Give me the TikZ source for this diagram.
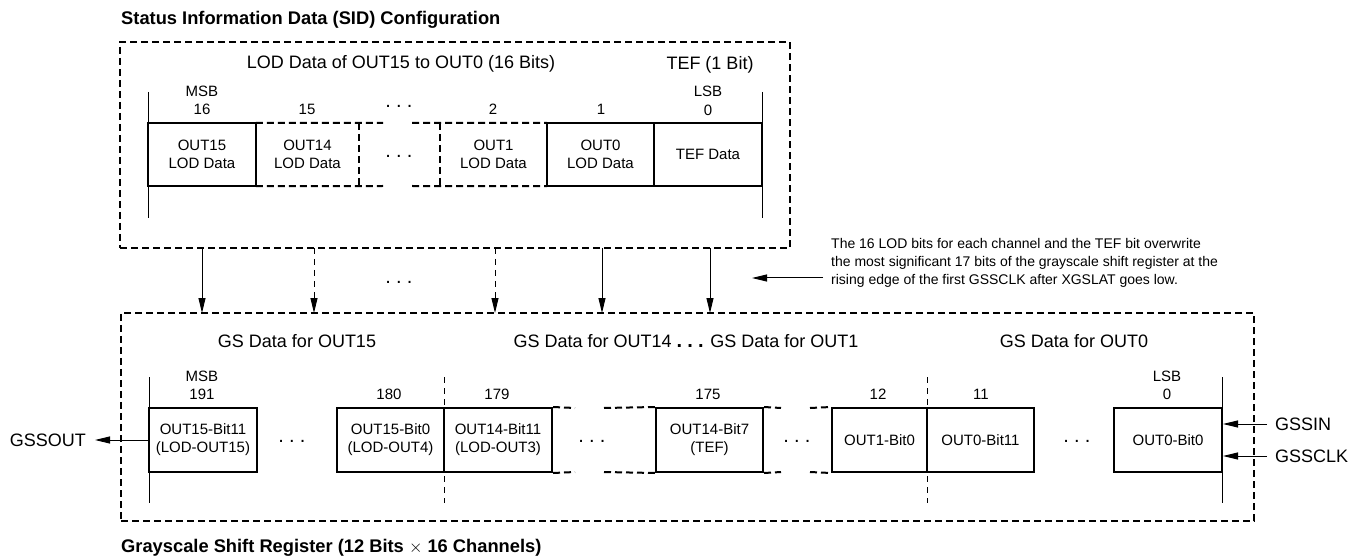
\documentclass[tikz,border=0pt]{standalone}
\usepackage{fontspec}
\setmainfont{Liberation Sans}
\usetikzlibrary{arrows.meta}
\newcommand\mydots{.\hspace{5.2pt}.\hspace{5.2pt}.}
\begin{document}
\begin{tikzpicture}[x=1pt,y=-1pt,
  hdr/.style={inner sep=0pt, font=\fontsize{18}{21.6}\selectfont, text height=12.9pt, text depth=0pt},
  num/.style={inner sep=0pt, font=\fontsize{15}{18}\selectfont, text height=10.7pt, text depth=0pt},
  ttl/.style={inner sep=0pt, font=\fontsize{18.3}{22}\selectfont\bfseries, text height=13.1pt, text depth=0pt, anchor=west},
  dts/.style={inner sep=0pt, font=\fontsize{20}{24}\selectfont},
  tcell/.style={minimum width=#1, minimum height=63pt, inner sep=0pt, align=center, font=\fontsize{15}{18}\selectfont},
  bcell/.style={minimum width=#1, minimum height=64pt, inner sep=0pt, align=center, font=\fontsize{15}{18}\selectfont, draw, line width=2pt},
  solid box/.style={draw, line width=2pt},
  dbox/.style={line width=2pt, dash pattern=on 7pt off 4pt},
  guide/.style={line width=1pt},
  dguide/.style={line width=1pt, dash pattern=on 6pt off 5pt},
  arr/.style={line width=1pt, -{Triangle[length=15pt,width=7pt]}},
  darr/.style={line width=1pt, dash pattern=on 6pt off 5pt, -{Triangle[length=15pt,width=7pt]}},
  sig/.style={inner sep=0pt, font=\fontsize{18}{21.6}\selectfont, text height=12.9pt, text depth=0pt},
]
\useasboundingbox (0,0) rectangle (1366,556);
\fill[white] (0,0) rectangle (1366,556);

% ---------- top: SID configuration ----------
\node[ttl] (t1) at (121,18) {Status Information Data (SID) Configuration};
\node[draw, dbox, minimum width=670pt, minimum height=206pt, inner sep=0pt] (sid) at (455,145) {};
\node[hdr] (h1) at (401,62) {LOD Data of OUT15 to OUT0 (16 Bits)};
\node[hdr] (h2) at (710,63) {TEF (1 Bit)};

\node[tcell=108pt, solid box] (r16) at (202,154.5) {OUT15\\LOD Data};
\node[tcell=103pt] (r15) at (307.5,154.5) {OUT14\\LOD Data};
\node[tcell=107pt] (r2) at (493.5,154.5) {OUT1\\LOD Data};
\node[tcell=107pt, solid box] (r1) at (600.5,154.5) {OUT0\\LOD Data};
\node[tcell=108pt, solid box] (r0) at (708,154.5) {TEF Data};
\node[dts] (md) at (399,156) {\mydots};

\draw[dbox] (r15.north west) -- (383,123);
\draw[dbox] (412,123) -- (r2.north east);
\draw[dbox] (r15.south west) -- (383,186);
\draw[dbox] (412,186) -- (r2.south east);
\draw[dbox] (r15.north east) -- (r15.south east);
\draw[dbox] (r2.north west) -- (r2.south west);

\draw[guide] (148,92) -- (148,218);
\draw[guide] (762,92) -- (762,218);

\node[num] (msb1) at (202,91) {MSB};
\node[num] (n16) at (202,109) {16};
\node[num] (n15) at (307,109) {15};
\node[dts] (td) at (399,106) {\mydots};
\node[num] (n2) at (493,109) {2};
\node[num] (n1) at (601,109) {1};
\node[num] (lsb1) at (708,91) {LSB};
\node[num] (n0) at (708,110) {0};

% ---------- arrows ----------
\coordinate (a1s) at (202,248); \coordinate (a1e) at (202,313);
\coordinate (a2s) at (314,248); \coordinate (a2e) at (314,313);
\coordinate (a3s) at (495,248); \coordinate (a3e) at (495,313);
\coordinate (a4s) at (602,248); \coordinate (a4e) at (602,313);
\coordinate (a5s) at (710,248); \coordinate (a5e) at (710,313);
\draw[arr] (a1s) -- (a1e);
\draw[darr] (a2s) -- (a2e);
\draw[darr] (a3s) -- (a3e);
\draw[arr] (a4s) -- (a4e);
\draw[arr] (a5s) -- (a5e);
\node[dts] (ad) at (399,282) {\mydots};

\node[inner sep=0pt, anchor=north west, align=left, font=\fontsize{14}{18}\selectfont] (note) at (831,238)
  {The 16 LOD bits for each channel and the TEF bit overwrite\\
   the most significant 17 bits of the grayscale shift register at the\\
   rising edge of the first GSSCLK after XGSLAT goes low.};
\coordinate (ns) at (823,278);
\coordinate (ne) at (752,278);
\draw[arr] (ns) -- (ne);

% ---------- bottom: grayscale shift register ----------
\node[draw, dbox, minimum width=1133pt, minimum height=208pt, inner sep=0pt] (gsr) at (687.5,417) {};
\node[ttl] (t2) at (121,546) {Grayscale Shift Register (12 Bits $\times$ 16 Channels)};
\node[hdr] (g15) at (297,341) {GS Data for OUT15};
\node[hdr] (g14) at (686,341) {GS Data for OUT14 {\fontsize{20}{24}\selectfont\bfseries\mydots} GS Data for OUT1};
\node[hdr] (g0) at (1074,341) {GS Data for OUT0};

\node[bcell=108pt] (b1) at (203,440) {OUT15-Bit11\\(LOD-OUT15)};
\node[bcell=107pt] (b2) at (390.5,440) {OUT15-Bit0\\(LOD-OUT4)};
\node[bcell=108pt] (b3) at (498,440) {OUT14-Bit11\\(LOD-OUT3)};
\node[bcell=107pt] (b4) at (709.5,440) {OUT14-Bit7\\(TEF)};
\node[bcell=95pt] (b5) at (879.5,440) {OUT1-Bit0};
\node[bcell=107pt] (b6) at (980.5,440) {OUT0-Bit11};
\node[bcell=108pt] (b7) at (1168,440) {OUT0-Bit0};

\node[dts] (d1) at (292,441) {\mydots};
\node[dts] (d2) at (592,441) {\mydots};
\node[dts] (d3) at (797,441) {\mydots};
\node[dts] (d4) at (1077,441) {\mydots};

\draw[dbox] (b3.north east) -- (575,408);
\draw[dbox] (604,408) -- (b4.north west);
\draw[dbox] (b3.south east) -- (575,472);
\draw[dbox] (604,472) -- (b4.south west);
\draw[dbox] (b4.north east) -- (781,408);
\draw[dbox] (810,408) -- (b5.north west);
\draw[dbox] (b4.south east) -- (781,472);
\draw[dbox] (810,472) -- (b5.south west);

\draw[guide] (149,377) -- (149,503);
\draw[guide] (1222,377) -- (1222,503);
\draw[dguide] (444,377) -- (444,503);
\draw[dguide] (927,377) -- (927,503);

\node[num] (msb2) at (202,376) {MSB};
\node[num] (n191) at (202,394) {191};
\node[num] (n180) at (389,394) {180};
\node[num] (n179) at (497,394) {179};
\node[num] (n175) at (708,394) {175};
\node[num] (n12) at (878,394) {12};
\node[num] (n11) at (981,394) {11};
\node[num] (lsb2) at (1167,376) {LSB};
\node[num] (nb0) at (1167,394) {0};

\node[sig, anchor=west] (gssin) at (1275,424) {GSSIN};
\node[sig, anchor=west] (gssclk) at (1275,456) {GSSCLK};
\node[sig, anchor=east] (gssout) at (86,440) {GSSOUT};
\draw[arr] (gssin.west) ++(-8,0) -- (b7.east |- gssin.west);
\draw[arr] (gssclk.west) ++(-8,0) -- (b7.east |- gssclk.west);
\draw[arr] (b1.west) -- ([xshift=9pt]gssout.east);
\end{tikzpicture}
\end{document}
